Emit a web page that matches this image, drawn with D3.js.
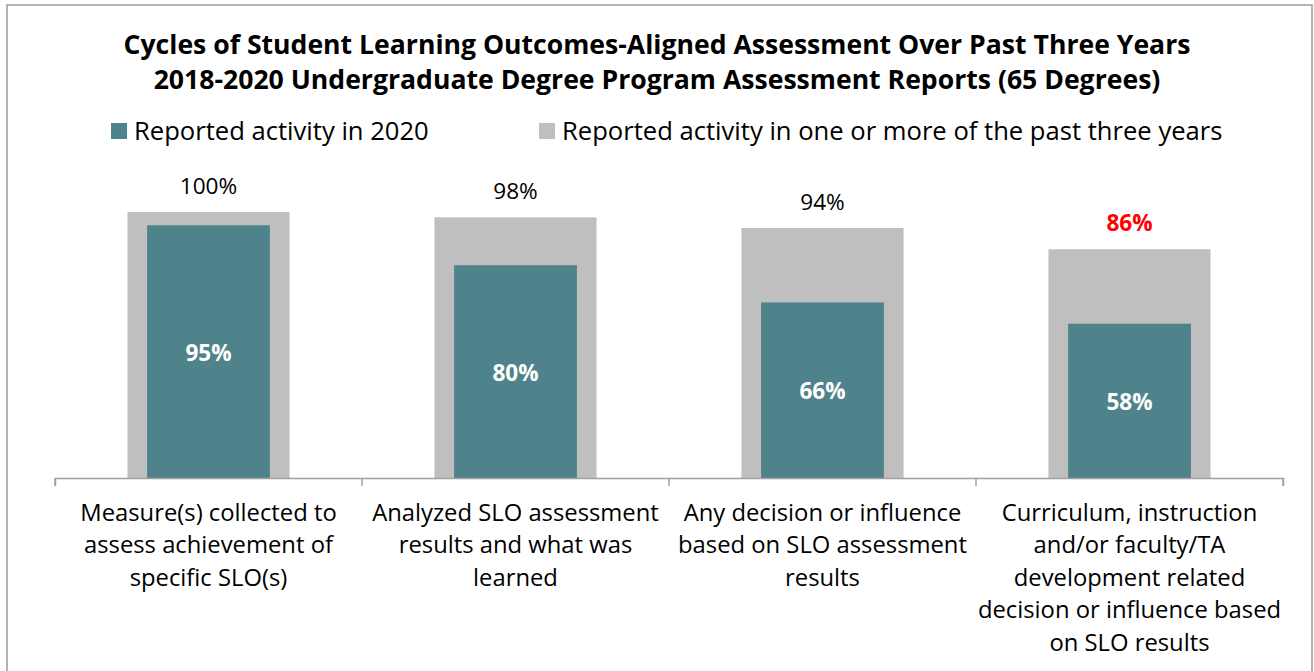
<!DOCTYPE html>
<html>
<head>
<meta charset="utf-8">
<script src="https://cdn.jsdelivr.net/npm/d3@7"></script>
<style>
  body { margin: 0; background: #fff; }
  svg { font-family: "Open Sans", Lato, sans-serif; }
</style>
</head>
<body>
<div id="chart"></div>
<script>
// datos del grafico
const categories = [
  "Measure(s) collected to|assess achievement of|specific SLO(s)",
  "Analyzed SLO assessment|results and what was|learned",
  "Any decision or influence|based on SLO assessment|results",
  "Curriculum, instruction|and/or faculty/TA|development related|decision or influence based|on SLO results"
]
const pastThreeYears = [100, 98, 94, 86]
const in2020 = [95, 80, 66, 58]
const seriesNames = ["Reported activity in 2020", "Reported activity in one or more of the past three years"]
const titleLines = [
  "Cycles of Student Learning Outcomes-Aligned Assessment Over Past Three Years",
  "2018-2020 Undergraduate Degree Program Assessment Reports (65 Degrees)"
]

const anchoTotal = 1314
const altoTotal = 671
const colorTeal = "#4f838b"
const colorGris = "#bfbfbf"

const svg = d3.select("#chart")
  .append("svg")
    .attr("width", anchoTotal)
    .attr("height", altoTotal)

// marco exterior
svg.append("rect")
  .attr("x", 7).attr("y", 5)
  .attr("width", 1305).attr("height", 700)
  .attr("fill", "none")
  .attr("stroke", "#9a9a9a")
  .attr("stroke-width", 1.5)

// titulo
svg.selectAll(".titulo")
  .data(titleLines)
  .enter()
  .append("text")
    .attr("class", "titulo")
    .attr("x", 657)
    .attr("y", (d, i) => 54 + i * 35)
    .attr("text-anchor", "middle")
    .attr("font-size", "26.6px")
    .attr("font-weight", "bold")
    .attr("fill", "#000")
    .text(d => d)

// leyenda
const legendPos = [111, 539]
const legend = svg.selectAll(".leg")
  .data(seriesNames)
  .enter()
  .append("g")
    .attr("transform", (d, i) => `translate(${legendPos[i]},123)`)
legend.append("rect")
  .attr("width", 16).attr("height", 16)
  .attr("fill", (d, i) => i === 0 ? colorTeal : colorGris)
legend.append("text")
  .attr("x", 23).attr("y", 17)
  .attr("font-size", "25.6px")
  .text(d => d)

// escalas
const x = d3.scaleBand()
  .domain(d3.range(categories.length))
  .range([55, 1283])

const y = d3.scaleLinear()
  .domain([0, 100])
  .range([478, 212])

const g = svg.append("g")

// barras grises (tres anos)
g.selectAll(".gris")
  .data(pastThreeYears)
  .enter()
  .append("rect")
    .attr("x", (d, i) => x(i) + x.bandwidth() * 0.236)
    .attr("width", x.bandwidth() * 0.528)
    .attr("y", d => y(d))
    .attr("height", d => y(0) - y(d))
    .attr("fill", colorGris)

// barras teal (2020)
g.selectAll(".teal")
  .data(in2020)
  .enter()
  .append("rect")
    .attr("x", (d, i) => x(i) + x.bandwidth() * 0.3)
    .attr("width", x.bandwidth() * 0.4)
    .attr("y", d => y(d))
    .attr("height", d => y(0) - y(d))
    .attr("fill", colorTeal)

// etiquetas
g.selectAll(".lblGris")
  .data(pastThreeYears)
  .enter()
  .append("text")
    .attr("x", (d, i) => x(i) + x.bandwidth() / 2)
    .attr("y", d => y(d) - 18)
    .attr("text-anchor", "middle")
    .attr("font-size", "22.6px")
    .attr("font-weight", (d, i) => i === 3 ? "bold" : "normal")
    .attr("fill", (d, i) => i === 3 ? "#ff0000" : "#000")
    .text(d => d + "%")

g.selectAll(".lblTeal")
  .data(in2020)
  .enter()
  .append("text")
    .attr("x", (d, i) => x(i) + x.bandwidth() / 2)
    .attr("y", d => (y(d) + y(0)) / 2 + 9)
    .attr("text-anchor", "middle")
    .attr("font-size", "22.6px")
    .attr("font-weight", "bold")
    .attr("fill", "#fff")
    .text(d => d + "%")

// eje x
const ejeX = svg.append("g")
  .attr("transform", `translate(0,${y(0)})`)
  .call(d3.axisBottom(x).tickSize(8).tickFormat(""))
ejeX.select(".domain").attr("stroke", "#a0a0a0").attr("stroke-width", 1.5)
ejeX.selectAll(".tick").remove()
// marcas entre categorias
ejeX.selectAll(".sep")
  .data(d3.range(categories.length + 1))
  .enter()
  .append("line")
    .attr("x1", d => d < categories.length ? x(d) : x.range()[1])
    .attr("x2", d => d < categories.length ? x(d) : x.range()[1])
    .attr("y1", 0).attr("y2", 8)
    .attr("stroke", "#a0a0a0")
    .attr("stroke-width", 1.5)

// etiquetas de categoria
const cat = svg.selectAll(".cat")
  .data(categories)
  .enter()
  .append("text")
    .attr("text-anchor", "middle")
    .attr("font-size", "23.8px")
    .attr("fill", "#000")
cat.selectAll("tspan")
  .data((d, i) => d.split("|").map(t => ({ t, i })))
  .enter()
  .append("tspan")
    .attr("x", d => x(d.i) + x.bandwidth() / 2)
    .attr("y", (d, j) => 521 + j * 32.4)
    .text(d => d.t)
</script>
</body>
</html>
